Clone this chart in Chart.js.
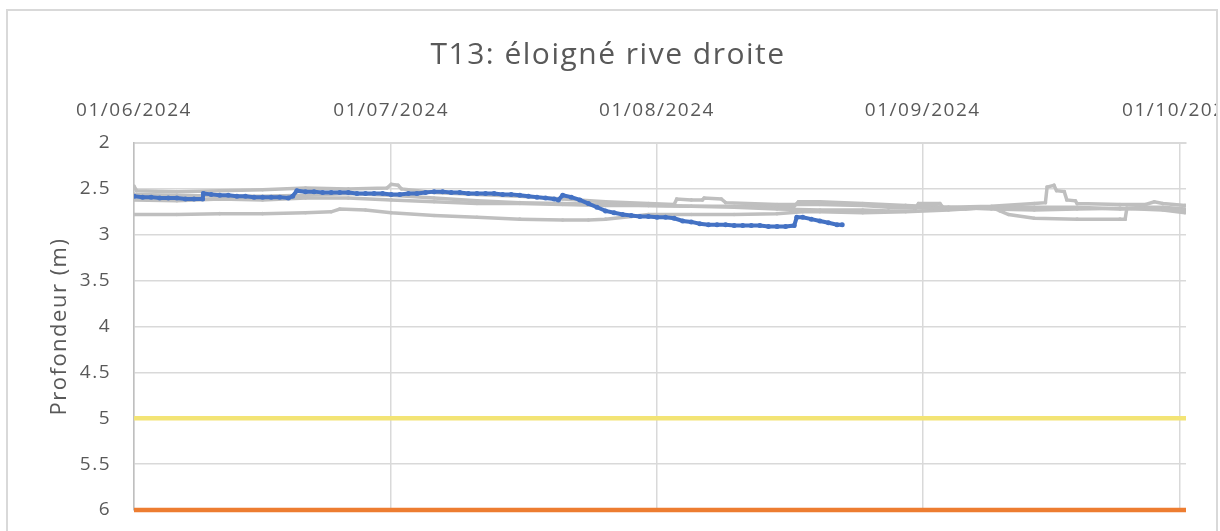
<!DOCTYPE html>
<html>
<head>
<meta charset="utf-8">
<script src="https://cdn.jsdelivr.net/npm/chart.js@4.4.1/dist/chart.umd.min.js"></script>
<style>
  body { margin: 0; background: #fff; overflow: hidden; }
  #frame { position: absolute; left: 6px; top: 9px; width: 1208px; height: 600px;
           border: 2px solid #d9d9d9; pointer-events: none; }
  #c { position: absolute; left: 0; top: 0; }
</style>
</head>
<body>
<canvas id="c" width="1216" height="531"></canvas>
<div id="frame"></div>
<script>
// Axe X : jours depuis le 01/06/2024
const xTickDays = [0, 30, 61, 92, 122];
const xTickLabels = ['01/06/2024', '01/07/2024', '01/08/2024', '01/09/2024', '01/10/2024'];
const yTicks = [2, 2.5, 3, 3.5, 4, 4.5, 5, 5.5, 6];

// Profondeur 2024 (bleu)
const days2024 = [0,1,2,3,4,5,6,7,8,8.1,9,10,11,12,13,14,15,16,17,18,18.5,19,20,21,22,23,24,25,26,27,28,29,30,31,32,33,34,35,36,37,38,39,40,41,42,43,44,45,46,47,48,49,49.5,50,51,52,53,54,55,56,57,58,59,60,61,62,63,64,65,66,67,68,69,70,71,72,73,74,75,76,77,77.3,78,79,80,81,82,82.6];
const depth2024 = [2.58,2.59,2.59,2.60,2.60,2.60,2.61,2.61,2.61,2.55,2.56,2.57,2.57,2.58,2.58,2.59,2.59,2.59,2.59,2.60,2.58,2.52,2.53,2.53,2.54,2.54,2.54,2.54,2.55,2.55,2.55,2.55,2.56,2.56,2.55,2.55,2.54,2.53,2.53,2.54,2.54,2.55,2.55,2.55,2.55,2.56,2.56,2.57,2.58,2.59,2.60,2.61,2.62,2.57,2.59,2.62,2.66,2.70,2.74,2.76,2.78,2.79,2.80,2.80,2.81,2.81,2.82,2.85,2.86,2.88,2.89,2.89,2.89,2.90,2.90,2.90,2.90,2.91,2.91,2.91,2.90,2.81,2.81,2.83,2.85,2.87,2.89,2.89];

// Années précédentes (gris)
const daysA = [0,0.3,5,10,15,20,25,29.5,30,30.8,31.2,35,40,45,50,55,60,63,63.3,65,66.3,66.5,68.5,69,75,80,85,88,93,95,100,105,106.3,106.5,107.3,107.6,108.5,108.8,109.8,110,115,118,119,120,122.6];
const depthA = [2.47,2.52,2.53,2.52,2.51,2.49,2.50,2.49,2.45,2.46,2.50,2.54,2.56,2.58,2.61,2.64,2.66,2.67,2.61,2.62,2.62,2.60,2.61,2.65,2.67,2.67,2.68,2.70,2.71,2.70,2.69,2.66,2.65,2.48,2.46,2.52,2.53,2.62,2.63,2.66,2.67,2.67,2.64,2.66,2.68];
const daysB = [0,5,10,15,20,25,30,35,40,45,50,55,60,65,70,75,80,85,88,91,91.5,94,94.5,97,100,105,110,115,118,120,122.6];
const depthB = [2.62,2.63,2.61,2.62,2.60,2.60,2.62,2.64,2.66,2.66,2.67,2.68,2.68,2.69,2.70,2.72,2.73,2.73,2.74,2.74,2.66,2.66,2.72,2.72,2.70,2.70,2.70,2.72,2.71,2.72,2.74];
const daysC = [0,5,10,15,20,23,24,27,30,35,40,45,50,53,55,58,60,65,70,75,78,80,85,90,95,100,101,102,105,110,115,115.6,115.8,118,120,122.6];
const depthC = [2.78,2.78,2.77,2.77,2.76,2.75,2.72,2.73,2.76,2.79,2.81,2.83,2.84,2.84,2.83,2.80,2.78,2.78,2.78,2.77,2.75,2.75,2.76,2.75,2.73,2.70,2.74,2.78,2.82,2.83,2.83,2.83,2.71,2.70,2.70,2.72];
const daysD = [0,5,10,15,20,25,30,35,40,45,50,55,60,65,70,75,77,77.5,80,85,90,95,100,105,110,115,120,122.6];
const depthD = [2.56,2.57,2.58,2.58,2.57,2.55,2.57,2.60,2.63,2.65,2.66,2.67,2.68,2.69,2.69,2.69,2.69,2.64,2.64,2.66,2.68,2.70,2.72,2.73,2.72,2.71,2.73,2.76];

// Seuils
const seuilDays = [0, 122.7];
const seuilJaune = [5, 5];
const seuilOrange = [6, 6];

const toXY = (xs, ys) => xs.map((x, i) => ({ x: x, y: ys[i] }));

function grey(xs, ys) {
  return {
    data: toXY(xs, ys), borderColor: '#bfbfbf', backgroundColor: '#bfbfbf',
    borderWidth: 3.5, pointRadius: 1.8, pointBorderWidth: 0, order: 3
  };
}

// Espacement des lettres comme dans Excel
const spacing = {
  id: 'spacing',
  beforeDraw: chart => { chart.ctx.letterSpacing = '1.5px'; }
};

Chart.defaults.font.family = "'Open Sans', sans-serif";
Chart.defaults.color = '#595959';

new Chart(document.getElementById('c'), {
  type: 'line',
  data: {
    datasets: [
      { data: toXY(days2024, depth2024), borderColor: '#4472c4', backgroundColor: '#4472c4',
        borderWidth: 4, pointRadius: 2.5, pointBorderWidth: 0, order: 1 },
      grey(daysA, depthA), grey(daysB, depthB), grey(daysC, depthC), grey(daysD, depthD),
      { data: toXY(seuilDays, seuilJaune), borderColor: '#f3e475', borderWidth: 4.5,
        pointRadius: 0, order: 2, clip: false },
      { data: toXY(seuilDays, seuilOrange), borderColor: '#ed7d31', borderWidth: 4.5,
        pointRadius: 0, order: 2, clip: false }
    ]
  },
  plugins: [spacing],
  options: {
    responsive: false,
    animation: false,
    layout: { padding: { left: 0, right: 0, top: 0, bottom: 21 } },
    plugins: {
      legend: { display: false },
      tooltip: { enabled: false },
      title: {
        display: true, text: 'T13: éloigné rive droite',
        font: { size: 30, weight: 'normal' }, color: '#595959',
        padding: { top: 37, bottom: 0 }
      }
    },
    scales: {
      x: {
        type: 'linear', position: 'top', min: 0, max: 122.7,
        afterBuildTicks: s => { s.ticks = xTickDays.map(v => ({ value: v })); },
        afterFit: s => { s.height = 70; s.paddingLeft = 0; s.paddingRight = 0; },
        ticks: {
          callback: (v, i) => xTickLabels[i],
          font: { size: 19 }, padding: 21, maxRotation: 0, autoSkip: false
        },
        grid: { color: '#d9d9d9', lineWidth: 1.5, drawTicks: false },
        border: { color: '#d9d9d9', width: 2 }
      },
      y: {
        reverse: true, min: 2, max: 6,
        afterBuildTicks: s => { s.ticks = yTicks.map(v => ({ value: v })); },
        afterFit: s => { s.width = 134; s.paddingTop = 0; s.paddingBottom = 0; },
        ticks: { font: { size: 19 }, padding: 23, callback: v => String(v) },
        grid: { color: '#d9d9d9', lineWidth: 1.5, drawTicks: false },
        border: { color: '#bfbfbf', width: 1.5 },
        title: {
          display: true, text: 'Profondeur (m)', font: { size: 22 },
          color: '#595959', padding: { top: 47, bottom: 0 }
        }
      },
      // marge droite vide, pour que le titre reste centré sur toute la largeur
      marge: {
        position: 'right', min: 0, max: 1,
        afterFit: s => { s.width = 30; s.paddingTop = 0; s.paddingBottom = 0; },
        ticks: { display: false },
        grid: { display: false, drawTicks: false },
        border: { display: false }
      }
    }
  }
});
</script>
</body>
</html>
